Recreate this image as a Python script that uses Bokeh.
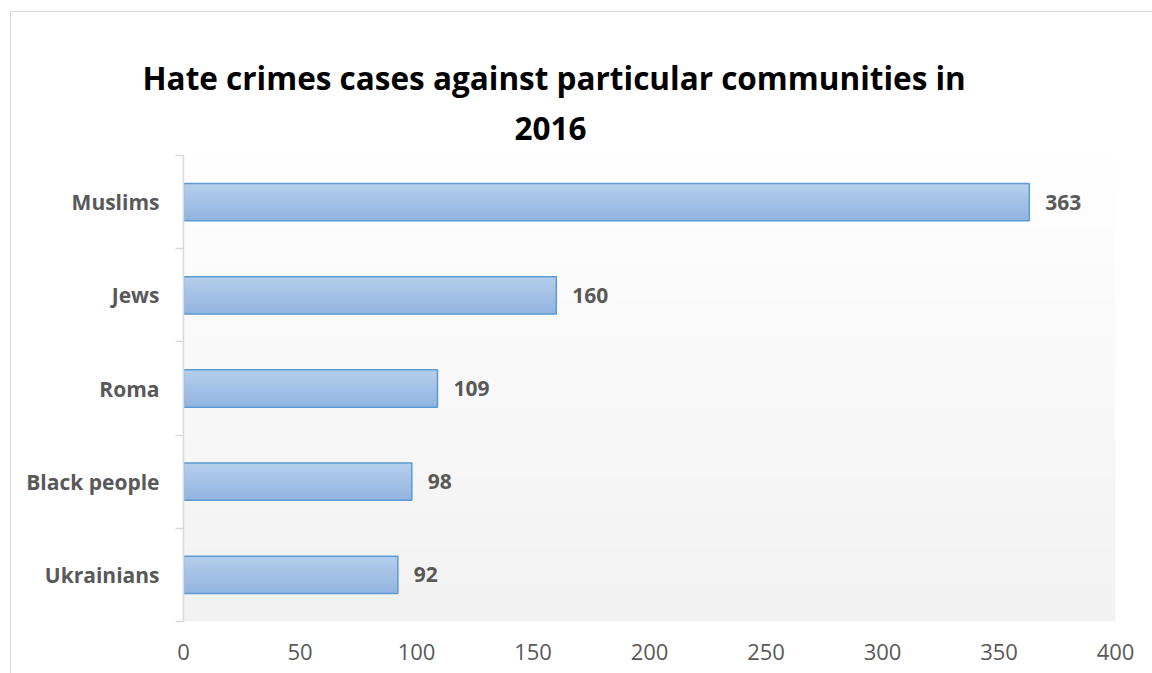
import numpy as np
from bokeh.plotting import figure
from bokeh.models import ColumnDataSource, Range1d, FixedTicker, LabelSet, Title
from bokeh.core.properties import value
from bokeh.transform import dodge
from bokeh.embed import file_html
from bokeh.resources import INLINE

# ---- data ----
categories = ["Muslims", "Jews", "Roma", "Black people", "Ukrainians"]
cases = [363, 160, 109, 98, 92]
x_ticks = [0, 50, 100, 150, 200, 250, 300, 350, 400]
title_lines = ["Hate crimes cases against particular communities in", "2016"]

FONT = "Open Sans"
GREY = "#595959"
BAR_H = 0.4

n = len(categories)
ypos = [n - 1 - i + 0.5 for i in range(n)]
src = ColumnDataSource(dict(y=ypos, cases=cases, cat=categories,
                            lbl=[str(v) for v in cases]))

p = figure(width=1152, height=673, output_backend="svg", toolbar_location=None,
           x_range=Range1d(x_ticks[0], x_ticks[-1]), y_range=Range1d(0, n),
           min_border_left=183, min_border_right=37,
           min_border_top=155, min_border_bottom=52)
p.outline_line_color = None
p.grid.visible = False
p.background_fill_color = "white"
p.border_fill_color = None
p.styles = {
    "background": "linear-gradient(#d9d9d9, #d9d9d9) 10px 11px / 1px 800px no-repeat, "
                  "linear-gradient(#d9d9d9, #d9d9d9) 10px 11px / 1400px 1px no-repeat, white"
}

# plot-area gradient (white at top -> light grey at bottom)
rows = 200
g = np.linspace(0xF2, 0xFF, rows).astype(np.uint8)
img = np.zeros((rows, 1), dtype=np.uint32)
view = img.view(dtype=np.uint8).reshape((rows, 1, 4))
view[:, 0, 0] = g
view[:, 0, 1] = g
view[:, 0, 2] = g
view[:, 0, 3] = 255
p.image_rgba(image=[img], x=x_ticks[0], y=0, dw=x_ticks[-1] - x_ticks[0], dh=n)

# bars: vertical gradient fill built from overlapping layers (top -> bottom)
top_rgb = np.array([0xB5, 0xCE, 0xEB])
bot_rgb = np.array([0x92, 0xB4, 0xE1])
layers = 12
sh = BAR_H / layers
for k in range(layers):
    t = (k + 0.5) / layers          # 0 = top, 1 = bottom
    rgb = (top_rgb + (bot_rgb - top_rgb) * t).round().astype(int)
    col = "#%02x%02x%02x" % tuple(rgb)
    # layer spans from its own top edge down to the bar's bottom edge
    p.hbar(y=dodge("y", -k * sh / 2, range=p.y_range), left=0, right="cases",
           height=BAR_H - k * sh, source=src, fill_color=col, line_color=None)
p.hbar(y="y", left=0, right="cases", height=BAR_H, source=src,
       fill_color=None, line_color="#5b9bd5", line_width=1.5)

# value labels
p.add_layout(LabelSet(x="cases", y="y", text="lbl", source=src, x_offset=16,
                      text_baseline="middle", text_align="left",
                      text_font=value(FONT), text_font_style="bold",
                      text_font_size="21px", text_color=GREY))

# x axis
p.xaxis.ticker = FixedTicker(ticks=x_ticks)
p.xaxis.axis_line_color = None
p.xaxis.major_tick_line_color = None
p.xaxis.minor_tick_line_color = None
p.xaxis.major_tick_out = 0
p.xaxis.major_tick_in = 0
p.xaxis.major_label_standoff = 22
p.xaxis.major_label_text_font = FONT
p.xaxis.major_label_text_font_size = "22px"
p.xaxis.major_label_text_color = GREY

# y axis
p.yaxis.ticker = FixedTicker(ticks=ypos, minor_ticks=list(range(n + 1)))
p.yaxis.major_label_overrides = {y: c for y, c in zip(ypos, categories)}
p.yaxis.axis_line_color = "#d9d9d9"
p.yaxis.axis_line_width = 1.5
p.yaxis.major_tick_line_color = None
p.yaxis.major_tick_out = 0
p.yaxis.major_tick_in = 0
p.yaxis.minor_tick_line_color = "#d9d9d9"
p.yaxis.minor_tick_line_width = 1.5
p.yaxis.minor_tick_out = 8
p.yaxis.minor_tick_in = 0
p.yaxis.major_label_standoff = 16
p.yaxis.major_label_text_font = FONT
p.yaxis.major_label_text_font_style = "bold"
p.yaxis.major_label_text_font_size = "21px"
p.yaxis.major_label_text_color = GREY

# title (two lines, nearest-to-frame first)
for txt, off, stand in [(title_lines[1], 331, 32), (title_lines[0], -41, 0)]:
    p.add_layout(Title(text=txt, align="left", offset=off, standoff=stand,
                       text_font=FONT, text_font_style="bold",
                       text_font_size="31.5px", text_color="black"), "above")

open("out.html", "w").write(file_html(p, INLINE))
